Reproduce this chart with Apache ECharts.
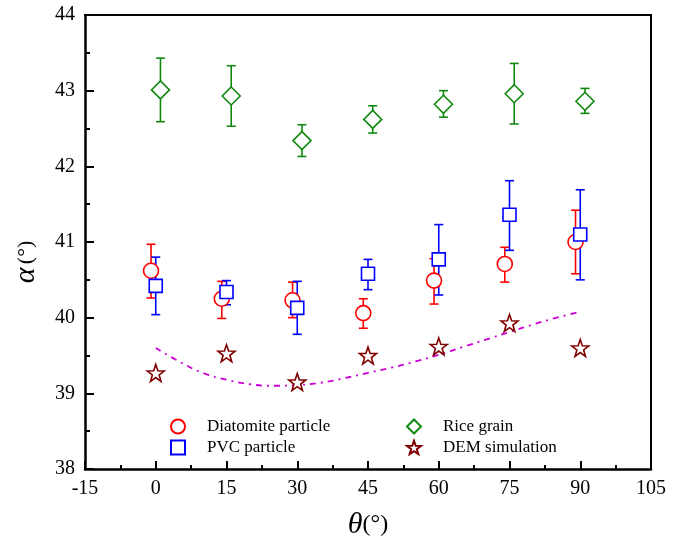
<!DOCTYPE html>
<html>
<head>
<meta charset="utf-8">
<script src="https://cdn.jsdelivr.net/npm/echarts@6/dist/echarts.min.js"></script>
<style>html,body{margin:0;padding:0;background:#fff}#c{width:684px;height:538px}</style>
</head>
<body>
<div id="c"></div>
<script>
// ---- data ----
const xTicks = [-15, 0, 15, 30, 45, 60, 75, 90, 105];
const yTicks = [38, 39, 40, 41, 42, 43, 44];

const diatX    = [-1, 14, 29, 44, 59, 74, 89];
const diatY    = [40.62, 40.25, 40.23, 40.06, 40.49, 40.71, 41.00];
const diatLow  = [40.26, 39.99, 40.00, 39.86, 40.18, 40.47, 40.58];
const diatHigh = [40.97, 40.48, 40.47, 40.25, 40.78, 40.93, 41.42];

const pvcX    = [0, 15, 30, 45, 60, 75, 90];
const pvcY    = [40.42, 40.34, 40.13, 40.58, 40.77, 41.36, 41.10];
const pvcLow  = [40.04, 40.17, 39.78, 40.37, 40.30, 40.89, 40.50];
const pvcHigh = [40.80, 40.49, 40.48, 40.77, 41.23, 41.81, 41.69];

const riceX    = [1, 16, 31, 46, 61, 76, 91];
const riceY    = [43.01, 42.93, 42.34, 42.62, 42.82, 42.96, 42.86];
const riceLow  = [42.59, 42.53, 42.13, 42.44, 42.65, 42.56, 42.70];
const riceHigh = [43.43, 43.33, 42.55, 42.80, 43.00, 43.36, 43.03];

const demX = [0, 15, 30, 45, 60, 75, 90];
const demY = [39.27, 39.53, 39.15, 39.50, 39.62, 39.93, 39.60];

const fitX = [0, 5, 10, 15, 20, 25, 30, 35, 40, 45, 50, 55, 60, 65, 70, 75, 80, 85, 90];
const fitY = [39.60, 39.42, 39.27, 39.18, 39.12, 39.10, 39.11, 39.14, 39.20, 39.27, 39.34, 39.42, 39.51, 39.61, 39.71, 39.81, 39.91, 40.00, 40.08];

const names = ['Diatomite particle', 'PVC particle', 'Rice grain', 'DEM simulation'];
const colors = ['#ff0000', '#0000ff', '#10880f', '#800000'];
const fitColor = '#cc00d4';

// ---- helpers ----
function zip2(a, b) { return a.map((v, i) => [v, b[i]]); }
function zip3(a, b, c) { return a.map((v, i) => [v, b[i], c[i]]); }

function starPath() {
  const pts = [];
  for (let i = 0; i < 10; i++) {
    const r = i % 2 === 0 ? 50 : 20;
    const ang = -Math.PI / 2 + i * Math.PI / 5;
    pts.push((50 + r * Math.cos(ang)).toFixed(2) + ',' + (50 + r * Math.sin(ang)).toFixed(2));
  }
  return 'path://M' + pts.join('L') + 'Z';
}

function errSeries(x, lo, hi, color) {
  return {
    type: 'custom',
    silent: true,
    z: 2,
    data: zip3(x, lo, hi),
    encode: { x: 0, y: [1, 2] },
    renderItem: function (params, api) {
      const xv = api.value(0);
      const pLo = api.coord([xv, api.value(1)]);
      const pHi = api.coord([xv, api.value(2)]);
      const w = 4.5;
      const st = { stroke: color, lineWidth: 1.6 };
      return {
        type: 'group',
        children: [
          { type: 'line', shape: { x1: pLo[0], y1: pLo[1], x2: pHi[0], y2: pHi[1] }, style: st },
          { type: 'line', shape: { x1: pLo[0] - w, y1: pLo[1], x2: pLo[0] + w, y2: pLo[1] }, style: st },
          { type: 'line', shape: { x1: pHi[0] - w, y1: pHi[1], x2: pHi[0] + w, y2: pHi[1] }, style: st }
        ]
      };
    }
  };
}

function scatter(name, x, y, symbol, size, color) {
  return {
    name: name,
    type: 'scatter',
    z: 3,
    symbol: symbol,
    symbolSize: size,
    data: zip2(x, y),
    itemStyle: { color: '#ffffff', borderColor: color, borderWidth: 1.6, opacity: 1 },
    emphasis: { disabled: true }
  };
}

const serif = 'Liberation Serif, Times New Roman, serif';
const chart = echarts.init(document.getElementById('c'), null, { renderer: 'canvas' });

const legendCommon = {
  orient: 'vertical',
  itemWidth: 14,
  itemHeight: 14,
  itemGap: 4,
  selectedMode: false,
  textStyle: { fontFamily: serif, fontSize: 17, color: '#000', padding: [0, 0, 0, 17] }
};

const option = {
  animation: false,
  backgroundColor: '#ffffff',
  grid: { left: 85, right: 33, top: 15, bottom: 69, containLabel: false, outerBoundsMode: 'none' },
  legend: [
    Object.assign({}, legendCommon, { left: 165, top: 413, data: [names[0], names[1]] }),
    Object.assign({}, legendCommon, { left: 401, top: 413, data: [names[2], names[3]] })
  ],
  xAxis: [
    {
      type: 'value', position: 'bottom',
      min: xTicks[0], max: xTicks[xTicks.length - 1], interval: 15,
      name: '{a|θ}{b|(°)}', nameLocation: 'middle', nameGap: 41,
      nameTextStyle: {
        rich: {
          a: { fontFamily: serif, fontStyle: 'italic', fontSize: 30, color: '#000' },
          b: { fontFamily: serif, fontSize: 24, color: '#000' }
        }
      },
      axisLine: { onZero: false, lineStyle: { color: '#000', width: 2.5 } },
      axisTick: { inside: true, length: 8, lineStyle: { color: '#000', width: 2 } },
      minorTick: { show: true, splitNumber: 2, length: 4, lineStyle: { color: '#000', width: 2 } },
      splitLine: { show: false },
      axisLabel: { fontFamily: serif, fontSize: 20, color: '#000', margin: 10 }
    },
    {
      type: 'value', position: 'top',
      min: xTicks[0], max: xTicks[xTicks.length - 1], interval: 15,
      axisLine: { onZero: false, lineStyle: { color: '#000', width: 2 } },
      axisTick: { show: false }, axisLabel: { show: false }, splitLine: { show: false }
    }
  ],
  yAxis: [
    {
      type: 'value', position: 'left',
      min: yTicks[0], max: yTicks[yTicks.length - 1], interval: 1,
      name: '{a|α} {b|(°)}', nameLocation: 'middle', nameGap: 44, nameRotate: 90,
      nameTextStyle: {
        padding: [0, 40, 0, 0],
        rich: {
          a: { fontFamily: serif, fontStyle: 'italic', fontSize: 30, color: '#000' },
          b: { fontFamily: serif, fontSize: 22, color: '#000' }
        }
      },
      axisLine: { onZero: false, lineStyle: { color: '#000', width: 2.5 } },
      axisTick: { inside: true, length: 9, lineStyle: { color: '#000', width: 2 } },
      minorTick: { show: true, splitNumber: 2, length: 5, lineStyle: { color: '#000', width: 2 } },
      splitLine: { show: false },
      axisLabel: { fontFamily: serif, fontSize: 20, color: '#000', margin: 10 }
    },
    {
      type: 'value', position: 'right',
      min: yTicks[0], max: yTicks[yTicks.length - 1], interval: 1,
      axisLine: { onZero: false, lineStyle: { color: '#000', width: 2 } },
      axisTick: { show: false }, axisLabel: { show: false }, splitLine: { show: false }
    }
  ],
  series: [
    {
      name: 'fit', type: 'line', smooth: true, symbol: 'none', z: 1,
      data: zip2(fitX, fitY),
      lineStyle: { color: fitColor, width: 1.8, type: [6, 5, 2, 5] },
      silent: true
    },
    errSeries(diatX, diatLow, diatHigh, colors[0]),
    scatter(names[0], diatX, diatY, 'circle', 15, colors[0]),
    errSeries(pvcX, pvcLow, pvcHigh, colors[1]),
    scatter(names[1], pvcX, pvcY, 'rect', 13, colors[1]),
    errSeries(riceX, riceLow, riceHigh, colors[2]),
    scatter(names[2], riceX, riceY, 'diamond', 18, colors[2]),
    scatter(names[3], demX, demY, starPath(), 17, colors[3])
  ]
};
chart.setOption(option);
</script>
</body>
</html>
